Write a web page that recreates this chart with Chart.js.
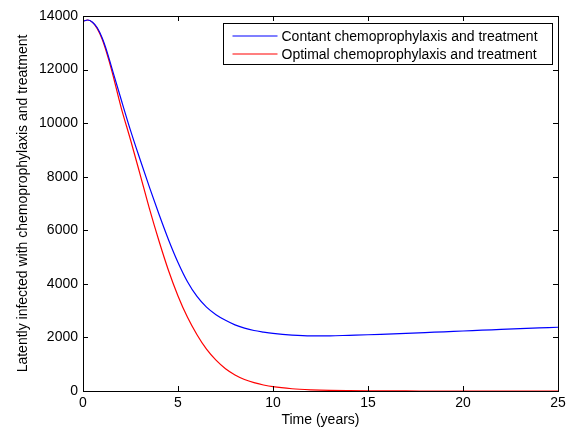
<!DOCTYPE html>
<html>
<head>
<meta charset="utf-8">
<script src="https://cdn.jsdelivr.net/npm/chart.js@4.4.1/dist/chart.umd.min.js"></script>
<style>
  html, body { margin: 0; padding: 0; background: #fff; }
  #wrap { width: 574px; height: 431px; }
</style>
</head>
<body>
<div id="wrap"><canvas id="chart"></canvas></div>
<script>
// time in years
const years = [0, 0.25, 0.5, 0.75, 1, 1.25, 1.5, 2, 2.5, 3, 3.5, 4, 4.5, 5, 5.5, 6, 6.5, 7, 7.5, 8, 8.5, 9, 9.5,
    10, 11, 12, 13, 14, 15, 16, 17, 18, 19, 20, 21, 22, 23, 24, 25];
// constant chemoprophylaxis and treatment (blue)
const constantLatent = [13800, 13850, 13770, 13560, 13200, 12700, 12100, 10900, 9730, 8650, 7600, 6600, 5650, 4800,
    4080, 3530, 3130, 2850, 2640, 2470, 2350, 2260, 2200,
    2150, 2085, 2055, 2060, 2080, 2100, 2125, 2150, 2180, 2210, 2240, 2270, 2300, 2330, 2355, 2380];
// optimal chemoprophylaxis and treatment (red)
const optimalLatent = [13800, 13850, 13760, 13530, 13150, 12620, 12000, 10600, 9380, 8100, 6800, 5600, 4500, 3550,
    2750, 2100, 1560, 1150, 830, 600, 430, 310, 225,
    160, 85, 45, 22, 11, 5, 2, 1, 0, 0, 0, 0, 0, 0, 0, 0];
const seriesNames = ['Contant chemoprophylaxis and treatment', 'Optimal chemoprophylaxis and treatment'];
const seriesColors = ['#0000ff', '#ff0000'];
const xTicks = [0, 5, 10, 15, 20, 25];
const yTicks = [0, 2000, 4000, 6000, 8000, 10000, 12000, 14000];

const FONT = 'Liberation Sans, Arial, Helvetica, sans-serif';

function pts(vals) {
    return years.map((t, i) => ({ x: t, y: vals[i] }));
}

// box round the axes with inward ticks, matlab style
const boxPlugin = {
    id: 'box',
    afterDatasetsDraw(chart) {
        const ctx = chart.ctx;
        const a = chart.chartArea;
        const xs = chart.scales.x, ys = chart.scales.y;
        const len = 5;
        ctx.save();
        ctx.strokeStyle = '#000';
        ctx.lineWidth = 1;
        ctx.beginPath();
        xTicks.forEach(v => {
            const px = Math.round(xs.getPixelForValue(v)) + 0.5;
            ctx.moveTo(px, a.bottom); ctx.lineTo(px, a.bottom - len);
            ctx.moveTo(px, a.top); ctx.lineTo(px, a.top + len);
        });
        yTicks.forEach(v => {
            const py = Math.round(ys.getPixelForValue(v)) + 0.5;
            ctx.moveTo(a.left, py); ctx.lineTo(a.left + len, py);
            ctx.moveTo(a.right, py); ctx.lineTo(a.right - len, py);
        });
        ctx.stroke();
        ctx.strokeRect(Math.round(a.left) + 0.5, Math.round(a.top) + 0.5,
            Math.round(a.right - a.left), Math.round(a.bottom - a.top));

        // legend box
        const boxW = 329, boxH = 41;
        const bx = Math.round(a.right - 6 - boxW) + 0.5;
        const by = Math.round(a.top + 7) + 0.5;
        ctx.fillStyle = '#fff';
        ctx.fillRect(bx, by, boxW, boxH);
        ctx.strokeRect(bx, by, boxW, boxH);
        ctx.font = '14px ' + FONT;
        ctx.textBaseline = 'middle';
        seriesNames.forEach((name, i) => {
            const ly = Math.round(by + 12 + i * 18);
            ctx.strokeStyle = seriesColors[i];
            ctx.lineWidth = 1.2;
            ctx.beginPath();
            ctx.moveTo(bx + 9, ly); ctx.lineTo(bx + 54, ly);
            ctx.stroke();
            ctx.fillStyle = '#000';
            ctx.fillText(name, bx + 58, ly + 1);
        });
        ctx.restore();
    }
};

const chart = new Chart(document.getElementById('chart'), {
    type: 'line',
    data: {
        datasets: [
            {
                label: seriesNames[0],
                data: pts(constantLatent),
                borderColor: seriesColors[0],
                borderWidth: 1.2,
                pointRadius: 0,
                cubicInterpolationMode: 'monotone'
            },
            {
                label: seriesNames[1],
                data: pts(optimalLatent),
                borderColor: seriesColors[1],
                borderWidth: 1.2,
                pointRadius: 0,
                cubicInterpolationMode: 'monotone'
            }
        ]
    },
    options: {
        responsive: true,
        maintainAspectRatio: false,
        animation: false,
        layout: { padding: { top: 16, right: 16, left: 0, bottom: 0 } },
        plugins: {
            legend: { display: false },
            tooltip: { enabled: false }
        },
        scales: {
            x: {
                type: 'linear',
                min: 0, max: 25,
                afterBuildTicks: s => { s.ticks = xTicks.map(v => ({ value: v })); },
                afterFit: s => { s.height = 40; },
                grid: { display: false, drawTicks: false, tickLength: 0 },
                border: { display: false },
                ticks: { color: '#000', padding: 4, maxRotation: 0, callback: v => String(v),
                    font: { family: FONT, size: 14 } },
                title: {
                    display: true, text: 'Time (years)', color: '#000',
                    padding: { top: 0, bottom: 2 },
                    font: { family: FONT, size: 14 }
                }
            },
            y: {
                min: 0, max: 14000,
                afterBuildTicks: s => { s.ticks = yTicks.map(v => ({ value: v })); },
                afterFit: s => { s.width = 83; },
                grid: { display: false, drawTicks: false, tickLength: 0 },
                border: { display: false },
                ticks: { color: '#000', padding: 5, callback: v => String(v),
                    font: { family: FONT, size: 14 } },
                title: {
                    display: true, text: 'Latently infected with chemoprophylaxis and treatment', color: '#000',
                    padding: { top: 15, bottom: 0 },
                    font: { family: FONT, size: 14 }
                }
            }
        }
    },
    plugins: [boxPlugin]
});
</script>
</body>
</html>
